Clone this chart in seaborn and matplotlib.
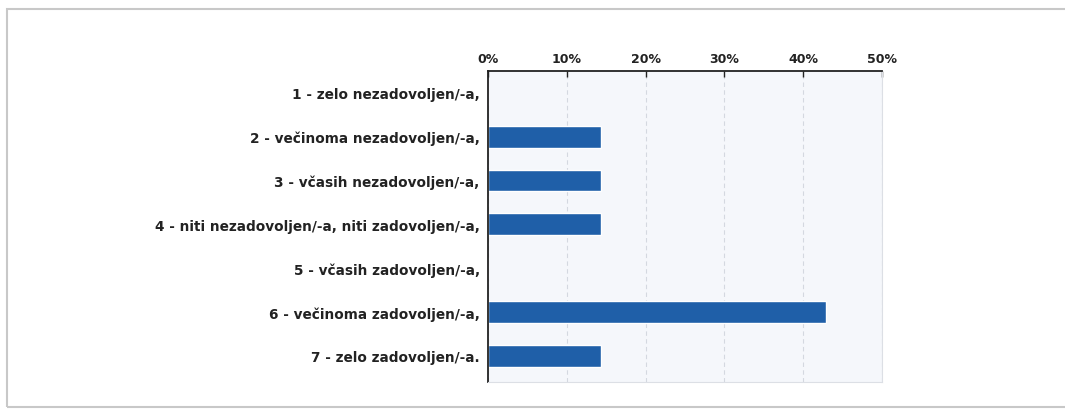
import matplotlib
matplotlib.use("Agg")
from matplotlib import pyplot as plt
from matplotlib.patches import Rectangle
from matplotlib.ticker import PercentFormatter
import pandas as pd
import seaborn as sns

# answers and share of respondents (n=7)
categories = [
    '1 - zelo nezadovoljen/-a,',
    '2 - večinoma nezadovoljen/-a,',
    '3 - včasih nezadovoljen/-a,',
    '4 - niti nezadovoljen/-a, niti zadovoljen/-a,',
    '5 - včasih zadovoljen/-a,',
    '6 - večinoma zadovoljen/-a,',
    '7 - zelo zadovoljen/-a.',
]
shares = [0.0, 14.29, 14.29, 14.29, 0.0, 42.86, 14.29]
x_ticks = [0, 10, 20, 30, 40, 50]

df = pd.DataFrame({'odgovor': categories, 'delez': shares})

sns.set_style('white')
plt.rcParams['font.family'] = ['DejaVu Sans']

fig = plt.figure(figsize=(10.65, 4.1), dpi=100)
ax = fig.add_axes([488 / 1065, 1 - 383 / 410, (882 - 488) / 1065, (383 - 72) / 410])

# outer frame of the chart
fig.patches.append(Rectangle((7 / 1065, 2 / 410), 1.05, (407 - 9) / 410,
                             transform=fig.transFigure, fill=False,
                             edgecolor='#c8c8c8', linewidth=1.5))

sns.barplot(data=df, y='odgovor', x='delez', orient='h', color='#1f5fa8',
            saturation=1, width=0.5, ax=ax)

ax.set_facecolor('#f5f7fb')
ax.set_xlim(0, 50)
ax.set_ylim(6.6, -0.5)
ax.set_xticks(x_ticks)
ax.xaxis.set_major_formatter(PercentFormatter(decimals=0))
ax.xaxis.tick_top()
ax.set_xlabel('')
ax.set_ylabel('')
ax.grid(axis='x', linestyle=(0, (4, 3)), color='#d4d8e0', linewidth=0.8)
ax.set_axisbelow(True)

for side in ['top', 'left']:
    ax.spines[side].set_color('#222222')
    ax.spines[side].set_linewidth(1.3)
for side in ['right', 'bottom']:
    ax.spines[side].set_color('#dcdfe5')
    ax.spines[side].set_linewidth(0.8)

ax.tick_params(axis='x', direction='in', length=4, width=1, colors='#222222', pad=4)
ax.tick_params(axis='y', direction='out', length=3, width=1, colors='#222222', pad=3)
for lbl in ax.get_xticklabels():
    lbl.set_fontweight('bold')
    lbl.set_fontsize(9)
    lbl.set_color('#222222')
for lbl in ax.get_yticklabels():
    lbl.set_fontweight('bold')
    lbl.set_fontsize(9.8)
    lbl.set_color('#222222')

fig.savefig('out.png', dpi=100)
